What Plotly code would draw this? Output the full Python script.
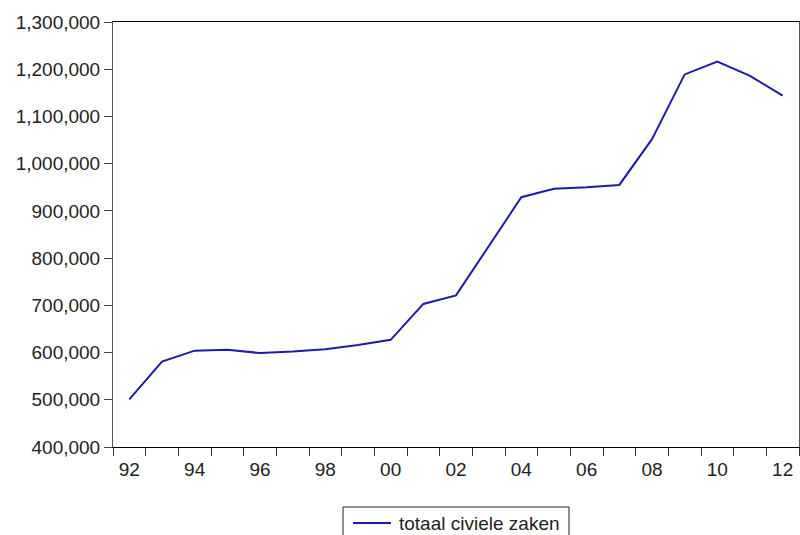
import plotly.graph_objects as go

years = list(range(1992, 2013))
values = [501000, 581000, 604000, 606000, 599000, 602000, 607000, 616000, 627000,
          703000, 721000, 826000, 929000, 947000, 950000, 955000, 1052000, 1189000,
          1216000, 1186000, 1144000]
series_name = "totaal civiele zaken"
x_tick_years = list(range(1992, 2013, 2))
x_tick_labels = [f"{y % 100:02d}" for y in x_tick_years]
y_ticks = list(range(400000, 1300001, 100000))

line_color = "#1c1ca8"
font = dict(family="Liberation Sans, Arial, sans-serif", size=19, color="#222222")

W, H = 800, 535
L, R, T, B = 113, 1, 22, 88
PW, PH = W - L - R, H - T - B


def px(x):
    return (x - L) / PW


def py(y):
    return (H - B - y) / PH


fig = go.Figure()
fig.add_trace(go.Scatter(x=years, y=values, mode="lines", name=series_name,
                         line=dict(color=line_color, width=2), showlegend=False))

# legend box drawn as in the reference (box runs off the bottom edge)
fig.add_shape(type="rect", xref="paper", yref="paper",
              x0=px(343), x1=px(569), y0=py(507), y1=py(560),
              line=dict(color="#222222", width=1), fillcolor="white", layer="above")
fig.add_shape(type="line", xref="paper", yref="paper",
              x0=px(353), x1=px(391), y0=py(523), y1=py(523),
              line=dict(color=line_color, width=2))
fig.add_annotation(x=px(397), y=py(523), xref="paper", yref="paper",
                   text=series_name, showarrow=False, xanchor="left", yanchor="middle",
                   font=font)

fig.update_layout(
    width=W, height=H,
    margin=dict(l=L, r=R, t=T, b=B, autoexpand=False),
    paper_bgcolor="white", plot_bgcolor="white",
    font=font,
    showlegend=False,
    xaxis=dict(range=[1991.5, 2012.5], tickvals=x_tick_years, ticktext=x_tick_labels,
               ticks="", showgrid=False, zeroline=False, automargin=False,
               showline=True, linecolor="black", linewidth=1, mirror=True,
               tickfont=font, ticklabelstandoff=5,
               minor=dict(tick0=1991.5, dtick=1, ticks="outside", ticklen=8,
                          tickcolor="#333333", tickwidth=1, showgrid=False)),
    yaxis=dict(range=[400000, 1300000], tickvals=y_ticks, tickformat=",",
               ticks="outside", ticklen=8, tickcolor="#444444", tickwidth=1,
               showgrid=False, zeroline=False, automargin=False,
               showline=True, linecolor="#555555", linewidth=1, mirror=True,
               tickfont=font),
)

fig.write_html(
    "out.html",
    config={"displayModeBar": False},
    post_script="document.body.style.margin='0px';document.body.style.overflow='hidden';"
                "window.dispatchEvent(new Event('resize'));",
)
